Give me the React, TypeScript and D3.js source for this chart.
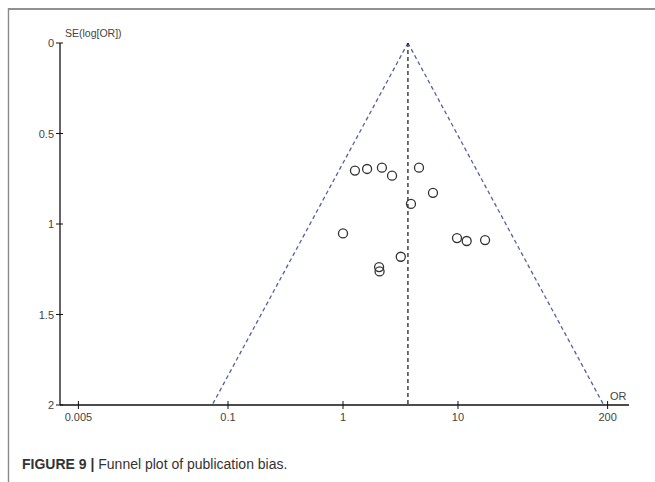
import React from "react";
import * as d3 from "d3";

const orValues = [1.27, 1.62, 2.18, 2.67, 4.58, 6.06, 3.9, 1.0, 9.8, 11.9, 17.2, 3.18, 2.06, 2.08];
const seValues = [0.705, 0.696, 0.689, 0.733, 0.689, 0.828, 0.889, 1.052, 1.078, 1.094, 1.089, 1.181, 1.238, 1.262];
const xTicks = [0.005, 0.1, 1, 10, 200];
const yTicks = [0, 0.5, 1, 1.5, 2];
const pooledOR = 3.67;
const seMax = 2;

const W = 655;
const H = 482;

export default function App() {
  const x = d3.scaleLog().domain([0.005, 200]).range([78.4, 607.6]);
  const y = d3.scaleLinear().domain([0, 2]).range([43, 405]);
  const axisX0 = 60;
  const axisY = y(2);
  const lo = Math.exp(Math.log(pooledOR) - 1.96 * seMax);
  const hi = Math.exp(Math.log(pooledOR) + 1.96 * seMax);
  const font = "Liberation Sans, Arial, sans-serif";
  const fmt = (v: number) => String(v);

  return (
    <svg width={W} height={H} style={{ position: "absolute", left: 0, top: 0 }} fontFamily={font}>
      <rect x={0} y={0} width={W} height={H} fill="#fff" />
      {/* frame */}
      <line x1={8} y1={9} x2={W} y2={9} stroke="#6b6b6b" strokeWidth={1.6} />
      <line x1={8.5} y1={8} x2={8.5} y2={H} stroke="#8a8a8a" strokeWidth={1.4} />

      {/* y axis */}
      <line x1={axisX0} y1={y(0)} x2={axisX0} y2={axisY} stroke="#111" strokeWidth={1.3} />
      {yTicks.map((t) => (
        <g key={"y" + t}>
          <line x1={axisX0 - 4} y1={y(t)} x2={axisX0 + 3} y2={y(t)} stroke="#111" strokeWidth={1} />
          <text x={axisX0 - 6} y={y(t) + 4} textAnchor="end" fontSize={11} fill="#444">
            {fmt(t)}
          </text>
        </g>
      ))}
      <text x={65} y={37} fontSize={10.5} fill="#444">SE(log[OR])</text>

      {/* x axis */}
      <line x1={axisX0} y1={axisY} x2={629} y2={axisY} stroke="#111" strokeWidth={1.3} />
      {xTicks.map((t) => (
        <g key={"x" + t}>
          <line x1={x(t)} y1={axisY - 4} x2={x(t)} y2={axisY + 4} stroke="#111" strokeWidth={1} />
          <text x={x(t)} y={axisY + 16} textAnchor="middle" fontSize={11} fill="#444">
            {fmt(t)}
          </text>
        </g>
      ))}
      <text x={610} y={400} fontSize={11} fill="#444">OR</text>

      {/* funnel */}
      <line x1={x(pooledOR)} y1={y(0)} x2={x(lo)} y2={y(seMax)} stroke="#55609e" strokeWidth={1.3} strokeDasharray="4,3" />
      <line x1={x(pooledOR)} y1={y(0)} x2={x(hi)} y2={y(seMax)} stroke="#55609e" strokeWidth={1.3} strokeDasharray="4,3" />
      <line x1={x(pooledOR)} y1={y(0)} x2={x(pooledOR)} y2={axisY} stroke="#111" strokeWidth={1.2} strokeDasharray="4,3" />

      {/* points */}
      {orValues.map((v, i) => (
        <circle key={i} cx={x(v)} cy={y(seValues[i])} r={4.5} fill="none" stroke="#333" strokeWidth={1.3} />
      ))}

      {/* caption */}
      <text x={22} y={469} fontSize={14} fill="#333">
        <tspan fontWeight="bold">FIGURE 9 | </tspan>
        <tspan>Funnel plot of publication bias.</tspan>
      </text>
    </svg>
  );
}
